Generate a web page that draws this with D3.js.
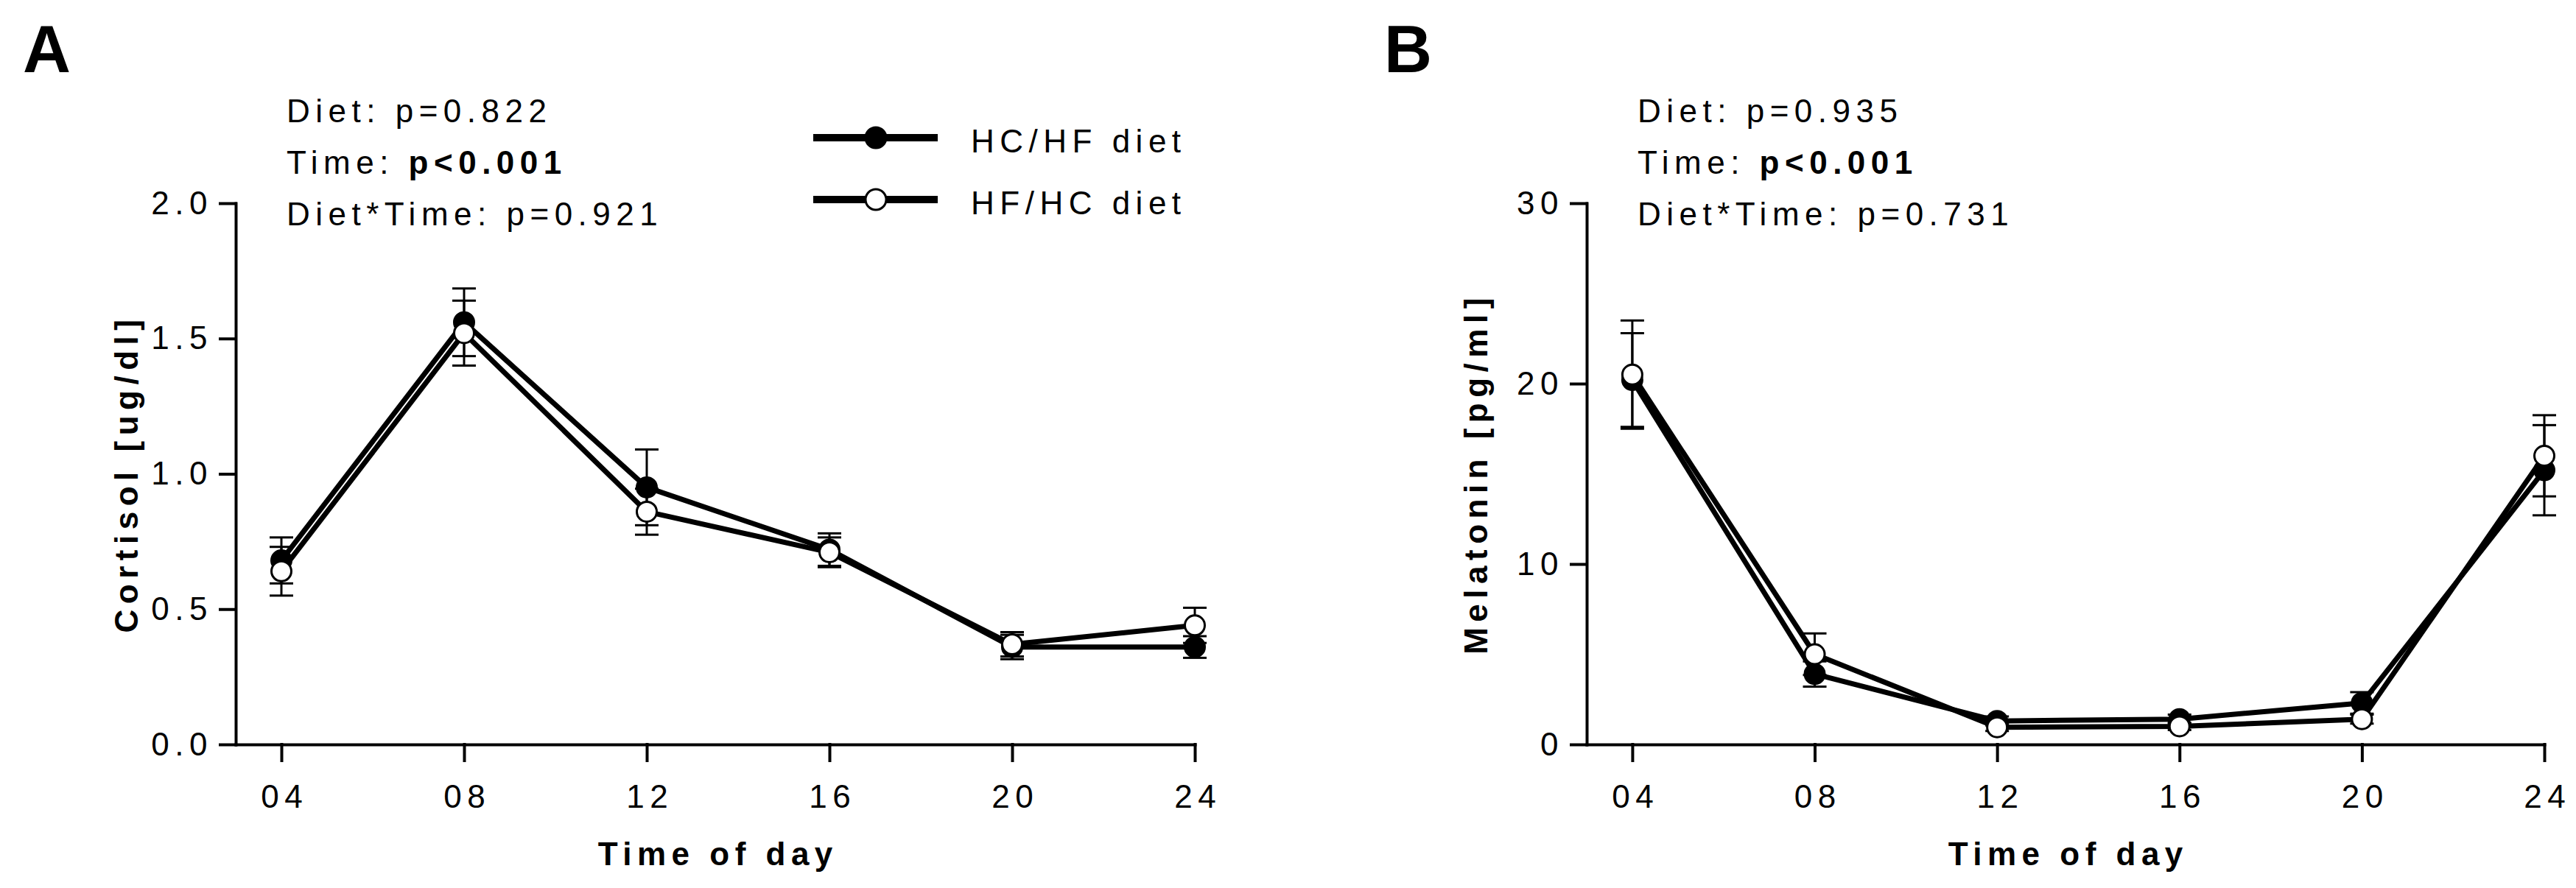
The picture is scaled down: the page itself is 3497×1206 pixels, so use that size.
<!DOCTYPE html>
<html lang="en">
<head>
<meta charset="utf-8">
<title>cortisol and melatonin</title>
<script src="https://d3js.org/d3.v7.min.js"></script>
<style>
  body { margin: 0; background: #fff; }
  text { font-family: "Liberation Sans", Arial, sans-serif; fill: #000; }
</style>
</head>
<body>
<script>
// time points
var times = [4, 8, 12, 16, 20, 24];
var timeLabels = ["04", "08", "12", "16", "20", "24"];

// cortisol (mean, SEM)
var cortHCHF = [0.68, 1.56, 0.95, 0.72, 0.36, 0.36];
var cortHCHFerr = [0.085, 0.125, 0.14, 0.06, 0.045, 0.04];
var cortHFHC = [0.64, 1.52, 0.86, 0.71, 0.37, 0.44];
var cortHFHCerr = [0.09, 0.12, 0.085, 0.055, 0.045, 0.065];
var cortTicks = [0, 0.5, 1.0, 1.5, 2.0];

// melatonin (mean, SEM)
var melHCHF = [20.2, 3.9, 1.3, 1.4, 2.3, 15.2];
var melHCHFerr = [2.6, 0.7, 0.25, 0.25, 0.6, 2.5];
var melHFHC = [20.5, 5.0, 0.95, 1.0, 1.4, 16.0];
var melHFHCerr = [3.0, 1.15, 0.2, 0.2, 0.25, 2.25];
var melTicks = [0, 10, 20, 30];

var seriesNames = ["HC/HF diet", "HF/HC diet"];
var cortStats = ["Diet: p=0.822", "p<0.001", "Diet*Time: p=0.921"];
var melStats = ["Diet: p=0.935", "p<0.001", "Diet*Time: p=0.731"];

var W = 3497, H = 1206;
var LS = 7.5; // letter spacing

var svg = d3.select("body").append("svg")
    .attr("width", W)
    .attr("height", H);

function drawPanel(p) {
  var x = d3.scaleLinear().domain([3, 24]).range([p.left, p.right]);
  var y = d3.scaleLinear().domain([0, p.ymax]).range([1011, 276]);
  var g = svg.append("g");

  // panel letter
  g.append("text")
      .attr("x", p.letterX).attr("y", 98)
      .style("font-size", "90px").style("font-weight", "bold")
      .text(p.letter);

  // stats text
  g.append("text").attr("x", p.left + 69).attr("y", 166)
      .style("font-size", "44px").style("letter-spacing", LS + "px")
      .text(p.stats[0]);
  var t2 = g.append("text").attr("x", p.left + 69).attr("y", 236)
      .style("font-size", "44px").style("letter-spacing", LS + "px");
  t2.append("tspan").text("Time: ");
  t2.append("tspan").style("font-weight", "bold").text(p.stats[1]);
  g.append("text").attr("x", p.left + 69).attr("y", 306)
      .style("font-size", "44px").style("letter-spacing", LS + "px")
      .text(p.stats[2]);

  // axes
  var yAxis = d3.axisLeft(y).tickValues(p.yticks).tickFormat(p.yfmt)
      .tickSize(21).tickSizeOuter(0).tickPadding(10);
  var xAxis = d3.axisBottom(x).tickValues(times)
      .tickFormat(function(d, i) { return timeLabels[i]; })
      .tickSize(22).tickSizeOuter(0).tickPadding(33);

  var ga = g.append("g").attr("transform", "translate(" + p.left + ",0)").call(yAxis);
  var gb = g.append("g").attr("transform", "translate(0,1011)").call(xAxis);
  [ga, gb].forEach(function(a) {
    a.selectAll("path, line").attr("stroke", "#000").attr("stroke-width", 4)
        .attr("stroke-linecap", "square");
    a.selectAll("text").style("font-size", "44px")
        .style("letter-spacing", LS + "px")
        .style("font-family", "'Liberation Sans', Arial, sans-serif")
        .attr("fill", "#000");
  });
  gb.selectAll("text").attr("dx", LS / 2);

  // axis titles
  g.append("text")
      .attr("transform", "translate(" + p.ylabX + ",643) rotate(-90)")
      .attr("text-anchor", "middle").attr("dy", "0.35em")
      .style("font-size", "44px").style("font-weight", "bold")
      .style("letter-spacing", "7.5px")
      .text(p.ylab);
  g.append("text")
      .attr("x", (p.left + p.right) / 2 + LS / 2).attr("y", 1175)
      .attr("text-anchor", "middle")
      .style("font-size", "44px").style("font-weight", "bold")
      .style("letter-spacing", "7.5px")
      .text("Time of day");

  // series
  var line = d3.line().x(function(d) { return x(d.t); }).y(function(d) { return y(d.v); });
  p.series.forEach(function(s, k) {
    var pts = times.map(function(t, i) { return { t: t, v: s.vals[i], e: s.err[i] }; });
    var sg = g.append("g");
    // error bars
    pts.forEach(function(d) {
      sg.append("line")
          .attr("x1", x(d.t)).attr("x2", x(d.t))
          .attr("y1", y(d.v - d.e)).attr("y2", y(d.v + d.e))
          .attr("stroke", "#000").attr("stroke-width", 3);
      [d.v - d.e, d.v + d.e].forEach(function(v) {
        sg.append("line")
            .attr("x1", x(d.t) - 16).attr("x2", x(d.t) + 16)
            .attr("y1", y(v)).attr("y2", y(v))
            .attr("stroke", "#000").attr("stroke-width", 3);
      });
    });
    sg.append("path").datum(pts).attr("d", line)
        .attr("fill", "none").attr("stroke", "#000").attr("stroke-width", 7)
        .attr("stroke-linejoin", "round");
    sg.selectAll("circle").data(pts).enter().append("circle")
        .attr("cx", function(d) { return x(d.t); })
        .attr("cy", function(d) { return y(d.v); })
        .attr("r", 13.5)
        .attr("fill", k === 0 ? "#000" : "#fff")
        .attr("stroke", "#000").attr("stroke-width", 3);
  });
}

drawPanel({
  letter: "A", letterX: 31, left: 320, right: 1622, ymax: 2, ylabX: 172,
  yticks: cortTicks, yfmt: d3.format(".1f"), ylab: "Cortisol [ug/dl]",
  stats: cortStats,
  series: [{ vals: cortHCHF, err: cortHCHFerr }, { vals: cortHFHC, err: cortHFHCerr }]
});

drawPanel({
  letter: "B", letterX: 1879, left: 2154, right: 3454, ymax: 30, ylabX: 2004,
  yticks: melTicks, yfmt: d3.format("d"), ylab: "Melatonin [pg/ml]",
  stats: melStats,
  series: [{ vals: melHCHF, err: melHCHFerr }, { vals: melHFHC, err: melHFHCerr }]
});

// legend
var legY = [187, 271];
seriesNames.forEach(function(name, k) {
  svg.append("line")
      .attr("x1", 1104).attr("x2", 1273)
      .attr("y1", legY[k]).attr("y2", legY[k])
      .attr("stroke", "#000").attr("stroke-width", 10);
  svg.append("circle")
      .attr("cx", 1189).attr("cy", legY[k]).attr("r", 14)
      .attr("fill", k === 0 ? "#000" : "#fff")
      .attr("stroke", "#000").attr("stroke-width", 3);
  svg.append("text")
      .attr("x", 1318).attr("y", legY[k] + 20)
      .style("font-size", "44px").style("letter-spacing", LS + "px")
      .text(name);
});
</script>
</body>
</html>
